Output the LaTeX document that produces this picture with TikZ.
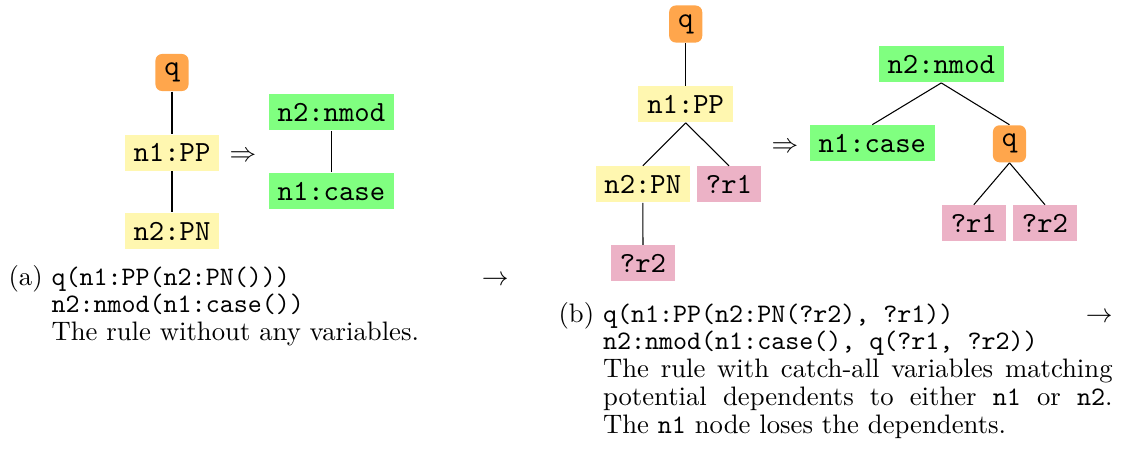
\documentclass[tikz,border=0pt]{standalone}
\usepackage{xcolor}
\definecolor{ppyellow}{RGB}{255,247,176}
% caption paragraph: label hanging in front of justified lines
\newcommand{\capbox}[3]{%
  \parbox[t]{#1}{\fontsize{10}{10.4}\selectfont
    \parindent=0pt \leftskip=0pt \rightskip=0pt \parfillskip=0pt plus 1fil
    \setbox0=\hbox{#2\ }\hangindent=\wd0 \hangafter=1
    \noindent #2\ #3\par}}
\begin{document}
\begin{tikzpicture}[x=0.3745pt,y=-0.3745pt,
  tn/.style={font=\fontsize{10.95}{13}\selectfont\ttfamily},
  qnode/.style={tn, fill=orange!70, rounded corners=2.5pt},
  ppnode/.style={tn, fill=ppyellow},
  grnode/.style={tn, fill=green!50},
  varnode/.style={tn, fill=purple!30},
  edge/.style={draw=black, line width=0.4pt},
  impl/.style={anchor=base, inner sep=0pt, font=\fontsize{10}{12}\selectfont},
  captext/.style={anchor=base west, inner sep=0pt}]
\useasboundingbox (0,0) rectangle (1122,454);

% (a) rule without variables
\node[qnode]  (aq)    at (172,72.5)   {q};
\node[ppnode] (app)   at (172,152.5)  {n1:PP};
\node[ppnode] (apn)   at (172,231)    {n2:PN};
\coordinate (ax) at (243,0);
\node[impl]   (aimp)  at (app.base -| ax) {$\Rightarrow$};
\node[grnode] (anmod) at (331.4,112.3) {n2:nmod};
\node[grnode] (acase) at (331.4,191)   {n1:case};
\draw[edge] (aq.south) -- (app.north);
\draw[edge] (app.south) -- (apn.north);
\draw[edge] (anmod.south) -- (acase.north);

% (b) rule with catch-all variables
\node[qnode]   (bq)    at (685.7,24)    {q};
\node[ppnode]  (bpp)   at (685.7,104.3) {n1:PP};
\node[ppnode]  (bpn)   at (642.8,184.3) {n2:PN};
\node[varnode] (br1)   at (729,184.3)   {?r1};
\node[varnode] (br2)   at (643,263.3)   {?r2};
\node[grnode]  (bnmod) at (941.3,64.3)  {n2:nmod};
\node[grnode]  (bcase) at (872.3,143.3) {n1:case};
\node[qnode]   (bq2)   at (1009.5,143.8) {q};
\node[varnode] (bsr1)  at (973.8,223.3) {?r1};
\node[varnode] (bsr2)  at (1045,223.3)  {?r2};
\coordinate (bx) at (785,0);
\node[impl]    (bimp)  at (bcase.base -| bx) {$\Rightarrow$};
\draw[edge] (bq.south) -- (bpp.north);
\draw[edge] (bpp.south) -- (bpn.north);
\draw[edge] (bpp.south) -- (br1.north);
\draw[edge] (bpn.south) -- (br2.north);
\draw[edge] (bnmod.south) -- (bcase.north);
\draw[edge] (bnmod.south) -- (bq2.north);
\draw[edge] (bq2.south) -- (bsr1.north);
\draw[edge] (bq2.south) -- (bsr2.north);

% captions
\node[captext] (capa) at (8,285)
  {\capbox{187.3pt}{(a)}{\texttt{q(n1:PP(n2:PN()))}\hfill$\rightarrow$\newline
   \texttt{n2:nmod(n1:case())}\newline
   The rule without any variables.}};
\node[captext] (capb) at (558,322)
  {\capbox{207.5pt}{(b)}{\texttt{q(n1:PP(n2:PN(?r2), ?r1))}\hfill$\rightarrow$\newline
   \texttt{n2:nmod(n1:case(), q(?r1, ?r2))}\newline
   The rule with catch-all variables matching\linebreak
   potential dependents to either \texttt{n1} or \texttt{n2}.\linebreak
   The \texttt{n1} node loses the dependents.}};
\end{tikzpicture}
\end{document}
